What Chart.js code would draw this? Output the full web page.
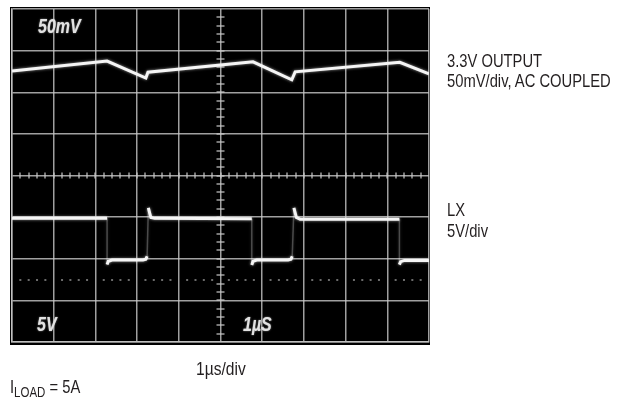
<!DOCTYPE html>
<html>
<head>
<meta charset="utf-8">
<script src="https://cdn.jsdelivr.net/npm/chart.js@4.4.1/dist/chart.umd.min.js"></script>
<style>
  html, body { margin: 0; padding: 0; background: #fff; }
  #wrap { position: relative; width: 635px; height: 400px; overflow: hidden; }
  .lbl { position: absolute; font-family: "Liberation Sans", Arial, sans-serif;
         font-size: 18px; line-height: 20px; color: #231f20; white-space: nowrap;
         transform: scaleX(0.82); transform-origin: left top; }
  .scr { position: absolute; font-family: "Liberation Sans", Arial, sans-serif;
         font-size: 20px; line-height: 22px; font-weight: bold; font-style: italic; color: #e2e2e2;
         text-shadow: 0 0 2px rgba(255,255,255,0.6); white-space: nowrap;
         transform: scaleX(0.8); transform-origin: left top; }
  sub { font-size: 14px; vertical-align: -4px; line-height: 0; }
</style>
</head>
<body>
<div id="wrap">
  <canvas id="scope"></canvas>
  <div class="scr" style="left:38px;top:15px;">50mV</div>
  <div class="scr" style="left:37px;top:313px;">5V</div>
  <div class="scr" style="left:243px;top:313px;">1µS</div>
  <div class="lbl" style="left:447px;top:51px;">3.3V OUTPUT<br>50mV/div, AC COUPLED</div>
  <div class="lbl" style="left:447px;top:200px;line-height:21px;">LX<br>5V/div</div>
  <div class="lbl" style="left:196px;top:359px;font-size:19px;">1µs/div</div>
  <div class="lbl" style="left:10px;top:377px;">I<sub>LOAD</sub> = 5A</div>
</div>
<script>
const xDivs = 10;
const yDivs = 8;

// 3.3V output ripple (top trace)
const timeOut = [0, 2.28, 3.21, 3.26, 5.78, 6.71, 6.79, 9.30, 10];
const outputDiv = [6.51, 6.75, 6.34, 6.48, 6.73, 6.30, 6.49, 6.72, 6.44];

// LX switching node (bottom trace)
const timeLx = [0, 2.28, 2.28, 2.31, 2.40, 3.14, 3.21, 3.24, 3.27, 3.33, 3.42,
                5.75, 5.75, 5.78, 5.87, 6.62, 6.69, 6.72, 6.76, 6.82, 6.91,
                9.29, 9.29, 9.32, 9.41, 10];
const lxDiv = [2.97, 2.97, 1.86, 1.94, 1.97, 1.97, 1.99, 2.06, 3.22, 2.99, 2.97,
               2.96, 1.85, 1.94, 1.97, 1.97, 1.99, 2.06, 3.22, 2.99, 2.95,
               2.95, 1.86, 1.93, 1.96, 1.96];

const gridColor = 'rgba(200,200,200,0.8)';

function pts(xs, ys) {
    return xs.map((x, i) => ({ x: x, y: ys[i] }));
}

// fast edges of the scope trace are barely visible
function isEdge(c) {
    return Math.abs(c.p1.parsed.x - c.p0.parsed.x) < 0.05 &&
           Math.abs(c.p1.parsed.y - c.p0.parsed.y) > 0.5;
}
const faintEdge = {
    borderColor: c => isEdge(c) ? 'rgba(255,255,255,0.25)' : undefined,
    borderWidth: c => isEdge(c) ? 1.5 : undefined
};

const screenPlugin = {
    id: 'screen',
    beforeDraw(chart) {
        const { ctx, chartArea: a } = chart;
        ctx.save();
        ctx.fillStyle = '#000';
        ctx.fillRect(a.left - 2, a.top - 2, a.right - a.left + 3, a.bottom - a.top + 5);
        ctx.restore();
    },
    beforeDatasetsDraw(chart) {
        const { ctx } = chart;
        const xs = chart.scales.x, ys = chart.scales.y;
        const cx = xs.getPixelForValue(xDivs / 2), cy = ys.getPixelForValue(yDivs / 2);
        ctx.save();
        ctx.strokeStyle = gridColor;
        ctx.lineWidth = 1.5;
        ctx.beginPath();
        // minor ticks on the centre graticule
        for (let i = 1; i < xDivs * 5; i++) {
            const px = Math.round(xs.getPixelForValue(i / 5));
            ctx.moveTo(px, cy - 3); ctx.lineTo(px, cy + 3);
        }
        for (let i = 1; i < yDivs * 5; i++) {
            const py = Math.round(ys.getPixelForValue(i / 5));
            ctx.moveTo(cx - 4, py); ctx.lineTo(cx + 4, py);
        }
        ctx.stroke();
        // dotted ground marker line
        ctx.fillStyle = 'rgba(180,180,180,0.6)';
        const gy = Math.round(ys.getPixelForValue(1.5));
        for (let i = 1; i < xDivs * 5; i++) {
            if (i % 5 === 0) continue;
            const px = xs.getPixelForValue(i / 5);
            ctx.fillRect(px - 1, gy - 1, 2, 2);
        }
        ctx.restore();
        ctx.save();
        ctx.shadowColor = 'rgba(255,255,255,0.6)';
        ctx.shadowBlur = 3;
    },
    afterDatasetsDraw(chart) {
        chart.ctx.restore();
    }
};

new Chart(document.getElementById('scope'), {
    type: 'line',
    data: {
        datasets: [{
            label: '3.3V OUTPUT',
            data: pts(timeOut, outputDiv),
            borderColor: '#f5f5f5',
            borderWidth: 3,
            pointRadius: 0,
            tension: 0
        }, {
            label: 'LX',
            data: pts(timeLx, lxDiv),
            borderColor: '#f5f5f5',
            borderWidth: 3,
            pointRadius: 0,
            tension: 0,
            segment: faintEdge
        }]
    },
    options: {
        responsive: true,
        maintainAspectRatio: false,
        animation: false,
        layout: { padding: { left: 12, top: 9, right: 206, bottom: 58 } },
        plugins: { legend: { display: false }, tooltip: { enabled: false } },
        scales: {
            x: {
                type: 'linear', min: 0, max: xDivs,
                ticks: { display: false, stepSize: 1 },
                grid: { color: gridColor, lineWidth: 1.5, drawTicks: false },
                border: { display: true, color: gridColor, width: 1.5 }
            },
            y: {
                type: 'linear', min: 0, max: yDivs,
                ticks: { display: false, stepSize: 1 },
                grid: { color: gridColor, lineWidth: 1.5, drawTicks: false },
                border: { display: true, color: gridColor, width: 1.5 }
            }
        }
    },
    plugins: [screenPlugin]
});
</script>
</body>
</html>
